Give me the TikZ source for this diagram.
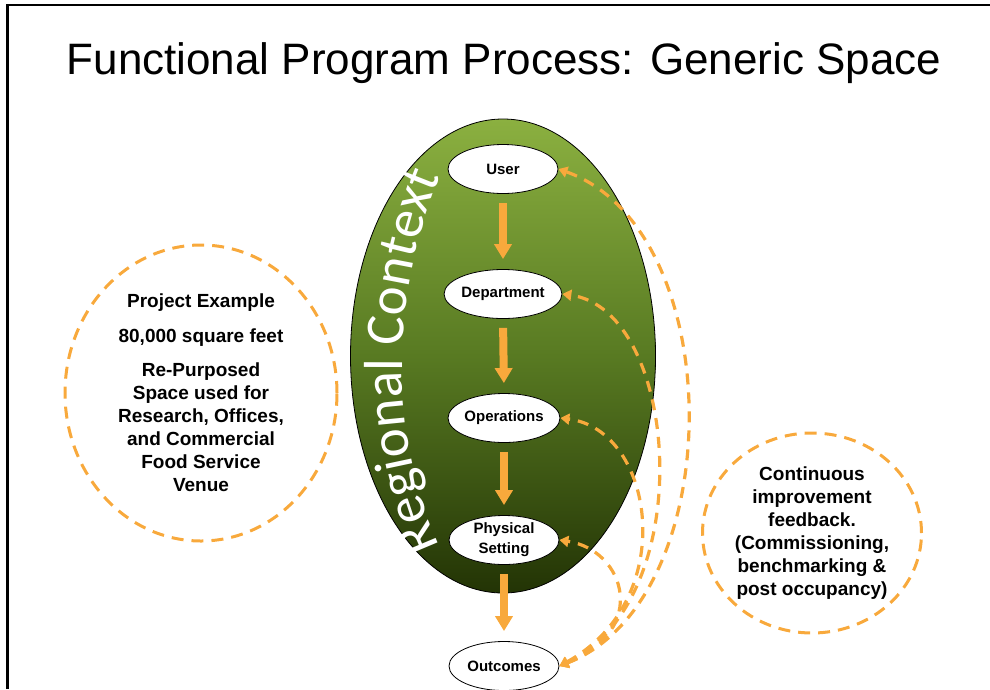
\documentclass[tikz,border=0pt]{standalone}
\usepackage{fontspec}
\setmainfont{Liberation Sans}
\newfontfamily\regfont{Carlito}
\usetikzlibrary{shapes.geometric,arrows.meta,decorations.text}
\definecolor{orng}{HTML}{F8A93C}
\definecolor{gtop}{HTML}{8BB040}
\definecolor{gmid}{HTML}{587A22}
\definecolor{gbot}{HTML}{233405}
\tikzset{
  stage/.style={ellipse, draw=black, line width=0.8pt, fill=white, minimum width=110pt, minimum height=49pt, inner sep=0pt, align=center, font=\bfseries\fontsize{15}{20}\selectfont},
  bigarrow/.style={draw=orng, line width=8pt, -{Triangle[width=17pt,length=15pt]}, shorten <=9pt, shorten >=10pt},
  fb/.style={draw=orng, line width=3.2pt, dash pattern=on 11pt off 8pt, {Triangle[width=11pt,length=9pt]}-{Triangle[width=11pt,length=9pt]}},
  dcircle/.style={ellipse, draw=orng, line width=3pt, dash pattern=on 12pt off 8pt, inner sep=0pt, align=center, font=\bfseries\fontsize{19}{23}\selectfont}
}
\begin{document}
\begin{tikzpicture}[x=1pt,y=-1pt]
\useasboundingbox (0,0) rectangle (990,689);
\draw[line width=2.6pt] (7.5,689) -- (7.5,5) -- (990,5);
\node[font=\fontsize{44}{50}\selectfont] (title) at (504,63) {Functional Program Process: Generic Space};
\node[ellipse, draw=black, line width=0.8pt, top color=gtop, bottom color=gbot, middle color=gmid, minimum width=305pt, minimum height=474pt] (ctx) at (503,356) {};
\path[decorate, decoration={text along path, text format delimiters={|}{|}, text color=white, text={|\regfont\fontsize{55}{55}\selectfont|Regional Context}}] (440,546) .. controls (390,440) and (385,290) .. (452,150);
\node[stage] (user) at (503,169) {User};
\node[stage] (dept) at (503,294) {Department};
\node[stage] (ops) at (504,418) {Operations};
\node[stage] (phys) at (504,540) {Physical\\Setting};
\node[stage] (out) at (504,666) {Outcomes};
\draw[bigarrow] (user.south) -- (dept.north);
\draw[bigarrow] (dept.south) -- (ops.north);
\draw[bigarrow] (ops.south) -- (phys.north);
\draw[bigarrow] (phys.south) -- (out.north);
\draw[fb] (out.east) .. controls (730,600) and (730,230) .. (user.east);
\draw[fb] (out.east) .. controls (700,600) and (680,310) .. (dept.east);
\draw[fb] (out.east) .. controls (680,600) and (655,430) .. (ops.east);
\draw[fb] (out.east) .. controls (650,630) and (625,550) .. (phys.east);
\node[dcircle, minimum width=272pt, minimum height=296pt] (proj) at (201,393) {Project Example\\[12pt]80,000 square feet\\[11pt]Re-Purposed\\Space used for\\Research, Offices,\\and Commercial\\Food Service\\Venue};
\node[dcircle, minimum width=219pt, minimum height=200pt] (cont) at (812,533) {Continuous\\improvement\\feedback.\\(Commissioning,\\benchmarking \&\\post occupancy)};
\end{tikzpicture}
\end{document}
